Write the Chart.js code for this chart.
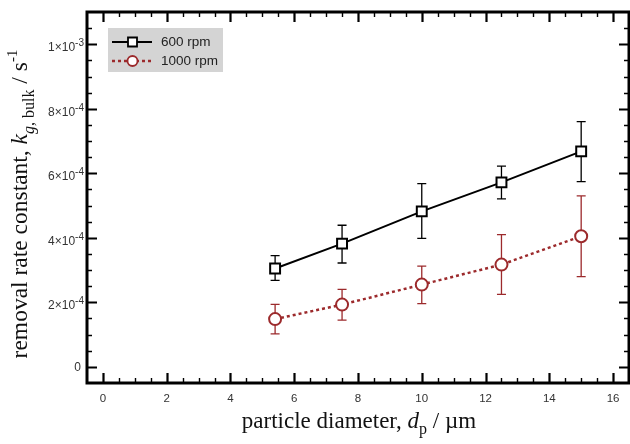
<!DOCTYPE html>
<html>
<head>
<meta charset="utf-8">
<script src="https://cdn.jsdelivr.net/npm/chart.js@4/dist/chart.umd.min.js"></script>
<style>
  html, body { margin: 0; padding: 0; background: #fff; }
  #wrap { width: 630px; height: 444px; }
</style>
</head>
<body>
<div id="wrap"><canvas id="chart" width="630" height="444"></canvas></div>
<script>
// axis ticks
const xTicks = [0, 2, 4, 6, 8, 10, 12, 14, 16];
const yTicks = [0, 2e-4, 4e-4, 6e-4, 8e-4, 1e-3];
const yTickBase = ['0', '2×10', '4×10', '6×10', '8×10', '1×10'];
const yTickExp = ['', '-4', '-4', '-4', '-4', '-3'];

// particle diameter (µm)
const diameters = [5.4, 7.5, 10, 12.5, 15];

// 600 rpm
const rate600 = [3.05e-4, 3.82e-4, 4.82e-4, 5.72e-4, 6.68e-4];
const rate600Hi = [3.45e-4, 4.39e-4, 5.68e-4, 6.22e-4, 7.6e-4];
const rate600Lo = [2.68e-4, 3.22e-4, 3.98e-4, 5.21e-4, 5.74e-4];

// 1000 rpm
const rate1000 = [1.48e-4, 1.93e-4, 2.55e-4, 3.17e-4, 4.05e-4];
const rate1000Hi = [1.94e-4, 2.40e-4, 3.12e-4, 4.10e-4, 5.30e-4];
const rate1000Lo = [1.02e-4, 1.45e-4, 1.96e-4, 2.25e-4, 2.80e-4];

const seriesNames = ['600 rpm', '1000 rpm'];
const RED = '#9c2a2c';
const SANS = '"Liberation Sans", Arial, sans-serif';
const SERIF = '"Liberation Serif", "Times New Roman", serif';

function toPoints(xs, ys) {
    return xs.map((x, i) => ({ x: x, y: ys[i] }));
}

// error bars, drawn under the markers
const errorBars = {
    id: 'errorBars',
    beforeDatasetsDraw(chart) {
        const ctx = chart.ctx;
        const xs = chart.scales.x, ys = chart.scales.y;
        chart.data.datasets.forEach(ds => {
            ctx.save();
            ctx.strokeStyle = ds.borderColor;
            ctx.lineWidth = 1.3;
            ds.data.forEach((p, i) => {
                const px = xs.getPixelForValue(p.x);
                const top = ys.getPixelForValue(ds.errHi[i]);
                const bot = ys.getPixelForValue(ds.errLo[i]);
                ctx.beginPath();
                ctx.moveTo(px, top); ctx.lineTo(px, bot);
                ctx.moveTo(px - 4.5, top); ctx.lineTo(px + 4.5, top);
                ctx.moveTo(px - 4.5, bot); ctx.lineTo(px + 4.5, bot);
                ctx.stroke();
            });
            ctx.restore();
        });
    }
};

// draw a run of text pieces with mixed styles
function drawPieces(ctx, pieces, cx, baseY) {
    let total = 0;
    pieces.forEach(p => { ctx.font = p.font; p.w = ctx.measureText(p.t).width; total += p.w; });
    let x = cx - total / 2;
    pieces.forEach(p => {
        ctx.font = p.font;
        ctx.fillText(p.t, x, baseY + (p.dy || 0));
        x += p.w;
    });
}

// frame, inward ticks, y labels, axis titles and legend
const decorations = {
    id: 'decorations',
    afterDraw(chart) {
        const ctx = chart.ctx;
        const a = chart.chartArea;
        const xs = chart.scales.x, ys = chart.scales.y;
        ctx.save();
        ctx.strokeStyle = '#000';

        // ticks
        for (let v = 0; v <= 16.001; v += 0.5) {
            const major = Math.abs(v / 2 - Math.round(v / 2)) < 1e-6;
            const len = major ? 10 : 5;
            const px = Math.round(xs.getPixelForValue(v)) + 0.5;
            ctx.lineWidth = major ? 2.2 : 1.4;
            ctx.beginPath();
            ctx.moveTo(px, a.bottom); ctx.lineTo(px, a.bottom - len);
            ctx.moveTo(px, a.top); ctx.lineTo(px, a.top + len);
            ctx.stroke();
        }
        for (let k = 0; k <= 21; k++) {
            const v = k * 0.5e-4;
            const major = k % 4 === 0;
            const len = major ? 10 : 5;
            const py = Math.round(ys.getPixelForValue(v)) + 0.5;
            ctx.lineWidth = major ? 2.2 : 1.4;
            ctx.beginPath();
            ctx.moveTo(a.left, py); ctx.lineTo(a.left + len, py);
            ctx.moveTo(a.right, py); ctx.lineTo(a.right - len, py);
            ctx.stroke();
        }

        // frame
        ctx.lineWidth = 3;
        ctx.strokeRect(a.left, a.top, a.right - a.left, a.bottom - a.top);

        // y tick labels with superscript exponents
        ctx.fillStyle = '#333';
        ctx.textAlign = 'right';
        ctx.textBaseline = 'alphabetic';
        yTicks.forEach((v, i) => {
            const py = ys.getPixelForValue(v);
            const right = a.left - 3;
            if (!yTickExp[i]) {
                ctx.font = '12px ' + SANS;
                ctx.fillText(yTickBase[i], right - 3, py + 4);
                return;
            }
            ctx.font = '10px ' + SANS;
            ctx.fillText(yTickExp[i], right, py + 2);
            const ew = ctx.measureText(yTickExp[i]).width;
            ctx.font = '12px ' + SANS;
            ctx.fillText(yTickBase[i], right - ew, py + 7);
        });
        ctx.textAlign = 'left';

        // axis titles
        ctx.fillStyle = '#111';
        drawPieces(ctx, [
            { t: 'particle diameter, ', font: '23px ' + SERIF },
            { t: 'd', font: 'italic 23px ' + SERIF },
            { t: 'p', font: '16px ' + SERIF, dy: 6 },
            { t: ' / µm', font: '23px ' + SERIF }
        ], 359, 428);

        ctx.save();
        ctx.translate(27, 204);
        ctx.rotate(-Math.PI / 2);
        drawPieces(ctx, [
            { t: 'removal rate constant, ', font: '23.5px ' + SERIF },
            { t: 'k', font: 'italic 23.5px ' + SERIF },
            { t: 'g', font: 'italic 16px ' + SERIF, dy: 7 },
            { t: ', bulk', font: '16px ' + SERIF, dy: 7 },
            { t: ' / s', font: '23.5px ' + SERIF },
            { t: '-1', font: '15px ' + SERIF, dy: -10 }
        ], 0, 0);
        ctx.restore();

        // legend
        const lx = 108, ly = 28;
        ctx.fillStyle = '#d4d4d4';
        ctx.fillRect(lx, ly, 115, 44);
        ctx.font = '13.5px ' + SANS;
        ctx.textBaseline = 'middle';
        chart.data.datasets.forEach((ds, i) => {
            const y = ly + 14 + i * 19;
            ctx.strokeStyle = ds.borderColor;
            ctx.lineWidth = ds.borderWidth;
            ctx.setLineDash(ds.borderDash || []);
            ctx.beginPath();
            ctx.moveTo(lx + 4, y); ctx.lineTo(lx + 44, y);
            ctx.stroke();
            ctx.setLineDash([]);
            ctx.fillStyle = '#fff';
            ctx.lineWidth = 1.8;
            ctx.beginPath();
            if (ds.pointStyle === 'rect') ctx.rect(lx + 20, y - 4.5, 9, 9);
            else ctx.arc(lx + 24.5, y, 5, 0, Math.PI * 2);
            ctx.fill();
            ctx.stroke();
            ctx.fillStyle = '#222';
            ctx.fillText(ds.label, lx + 53, y);
        });
        ctx.restore();
    }
};

new Chart(document.getElementById('chart'), {
    type: 'scatter',
    data: {
        datasets: [{
            label: seriesNames[0],
            data: toPoints(diameters, rate600),
            errHi: rate600Hi,
            errLo: rate600Lo,
            showLine: true,
            borderColor: '#000',
            borderWidth: 2,
            pointStyle: 'rect',
            pointRadius: 7,
            pointBorderWidth: 2,
            pointBackgroundColor: '#fff',
            pointBorderColor: '#000'
        }, {
            label: seriesNames[1],
            data: toPoints(diameters, rate1000),
            errHi: rate1000Hi,
            errLo: rate1000Lo,
            showLine: true,
            borderColor: RED,
            borderWidth: 2.5,
            borderDash: [3, 3],
            pointStyle: 'circle',
            pointRadius: 6,
            pointBorderWidth: 2,
            pointBackgroundColor: '#fff',
            pointBorderColor: RED
        }]
    },
    options: {
        responsive: false,
        animation: false,
        layout: { autoPadding: false, padding: { left: 0, right: 1, top: 12, bottom: 0 } },
        plugins: {
            legend: { display: false },
            tooltip: { enabled: false }
        },
        scales: {
            x: {
                type: 'linear',
                min: -0.5,
                max: 16.5,
                afterBuildTicks: s => { s.ticks = xTicks.map(v => ({ value: v })); },
                afterFit: s => { s.height = 61; s.paddingLeft = 0; s.paddingRight = 0; },
                grid: { display: false, drawTicks: false },
                border: { display: false },
                ticks: {
                    padding: 9,
                    color: '#333',
                    font: { family: SANS, size: 11.5 }
                }
            },
            y: {
                type: 'linear',
                min: -0.5e-4,
                max: 1.1e-3,
                afterBuildTicks: s => { s.ticks = yTicks.map(v => ({ value: v })); },
                afterFit: s => { s.width = 87; s.paddingTop = 0; s.paddingBottom = 0; },
                grid: { display: false, drawTicks: false },
                border: { display: false },
                ticks: { display: false }
            }
        }
    },
    plugins: [errorBars, decorations]
});
</script>
</body>
</html>
